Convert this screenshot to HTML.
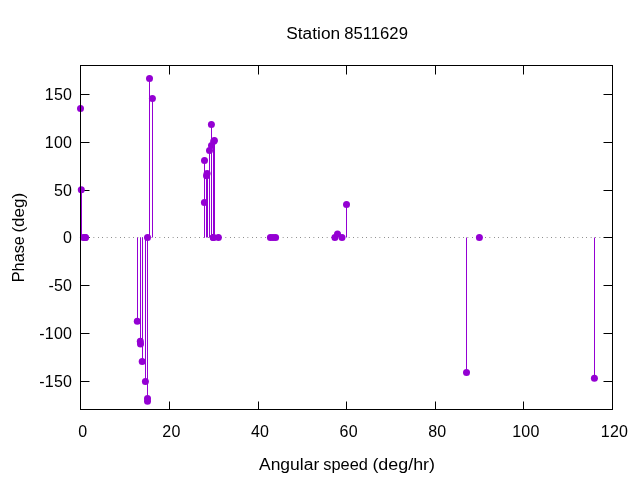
<!DOCTYPE html>
<html><head><meta charset="utf-8"><title>Station 8511629</title>
<style>
html,body{margin:0;padding:0;background:#fff;}
body{width:640px;height:480px;overflow:hidden;}
svg{display:block;}
text{font-family:"Liberation Sans",sans-serif;font-size:16px;fill:#000;}
</style></head><body>
<svg width="640" height="480" viewBox="0 0 640 480">
<rect width="640" height="480" fill="#fff"/>
<g stroke="#000" stroke-width="1" fill="none">
<path d="M80.5 94.5H89.5M612.5 94.5H603.5"/>
<path d="M80.5 142.5H89.5M612.5 142.5H603.5"/>
<path d="M80.5 190.5H89.5M612.5 190.5H603.5"/>
<path d="M80.5 237.5H89.5M612.5 237.5H603.5"/>
<path d="M80.5 285.5H89.5M612.5 285.5H603.5"/>
<path d="M80.5 333.5H89.5M612.5 333.5H603.5"/>
<path d="M80.5 381.5H89.5M612.5 381.5H603.5"/>
<path d="M169.5 409.5V401.5M169.5 65.5V74.5"/>
<path d="M258.5 409.5V401.5M258.5 65.5V74.5"/>
<path d="M346.5 409.5V401.5M346.5 65.5V74.5"/>
<path d="M435.5 409.5V401.5M435.5 65.5V74.5"/>
<path d="M523.5 409.5V401.5M523.5 65.5V74.5"/>
</g>
<line x1="80.4" y1="237.5" x2="612.5" y2="237.5" stroke="#000" stroke-opacity="0.72" stroke-width="1" stroke-dasharray="0.6 3.8"/>
<g stroke="#9400d3" stroke-width="1" fill="none">
<line x1="80.5" y1="237.5" x2="80.5" y2="108.4"/>
<line x1="81.5" y1="237.5" x2="81.5" y2="189.7"/>
<line x1="137.5" y1="237.5" x2="137.5" y2="321.2"/>
<line x1="140.5" y1="237.5" x2="140.5" y2="341.3"/>
<line x1="140.5" y1="237.5" x2="140.5" y2="344.0"/>
<line x1="142.5" y1="237.5" x2="142.5" y2="361.5"/>
<line x1="145.5" y1="237.5" x2="145.5" y2="381.5"/>
<line x1="147.5" y1="237.5" x2="147.5" y2="398.5"/>
<line x1="147.5" y1="237.5" x2="147.5" y2="401.3"/>
<line x1="149.5" y1="237.5" x2="149.5" y2="78.4"/>
<line x1="152.5" y1="237.5" x2="152.5" y2="98.4"/>
<line x1="204.5" y1="237.5" x2="204.5" y2="202.4"/>
<line x1="204.5" y1="237.5" x2="204.5" y2="160.5"/>
<line x1="206.5" y1="237.5" x2="206.5" y2="175.8"/>
<line x1="207.5" y1="237.5" x2="207.5" y2="173.5"/>
<line x1="209.5" y1="237.5" x2="209.5" y2="150.5"/>
<line x1="211.5" y1="237.5" x2="211.5" y2="124.4"/>
<line x1="211.5" y1="237.5" x2="211.5" y2="145.5"/>
<line x1="213.5" y1="237.5" x2="213.5" y2="141.2"/>
<line x1="214.5" y1="237.5" x2="214.5" y2="140.5"/>
<line x1="337.5" y1="237.5" x2="337.5" y2="234.1"/>
<line x1="346.5" y1="237.5" x2="346.5" y2="204.6"/>
<line x1="466.5" y1="237.5" x2="466.5" y2="372.4"/>
<line x1="594.5" y1="237.5" x2="594.5" y2="378.3"/>
</g>
<g fill="#9400d3">
<circle cx="80.5" cy="108.4" r="3.5"/>
<circle cx="81.3" cy="189.7" r="3.5"/>
<circle cx="83.4" cy="237.5" r="3.5"/>
<circle cx="85.2" cy="237.5" r="3.5"/>
<circle cx="85.5" cy="237.5" r="3.5"/>
<circle cx="137.3" cy="321.2" r="3.5"/>
<circle cx="140.3" cy="341.3" r="3.5"/>
<circle cx="140.5" cy="344.0" r="3.5"/>
<circle cx="142.2" cy="361.5" r="3.5"/>
<circle cx="145.4" cy="381.5" r="3.5"/>
<circle cx="147.5" cy="398.5" r="3.5"/>
<circle cx="147.5" cy="237.5" r="3.5"/>
<circle cx="147.5" cy="401.3" r="3.5"/>
<circle cx="149.5" cy="78.4" r="3.5"/>
<circle cx="152.4" cy="98.4" r="3.5"/>
<circle cx="204.4" cy="202.4" r="3.5"/>
<circle cx="204.5" cy="160.5" r="3.5"/>
<circle cx="206.5" cy="175.8" r="3.5"/>
<circle cx="207.1" cy="173.5" r="3.5"/>
<circle cx="209.5" cy="150.5" r="3.5"/>
<circle cx="211.4" cy="124.4" r="3.5"/>
<circle cx="211.5" cy="145.5" r="3.5"/>
<circle cx="213.7" cy="141.2" r="3.5"/>
<circle cx="213.3" cy="237.5" r="3.5"/>
<circle cx="213.3" cy="237.5" r="3.5"/>
<circle cx="214.4" cy="140.5" r="3.5"/>
<circle cx="218.4" cy="237.5" r="3.5"/>
<circle cx="270.4" cy="237.5" r="3.5"/>
<circle cx="273.0" cy="237.5" r="3.5"/>
<circle cx="275.6" cy="237.5" r="3.5"/>
<circle cx="334.9" cy="237.5" r="3.5"/>
<circle cx="337.5" cy="234.1" r="3.5"/>
<circle cx="342.0" cy="237.5" r="3.5"/>
<circle cx="346.5" cy="204.6" r="3.5"/>
<circle cx="466.5" cy="372.4" r="3.5"/>
<circle cx="479.4" cy="237.5" r="3.5"/>
<circle cx="594.4" cy="378.3" r="3.5"/>
</g>
<g stroke="#000" stroke-width="1" fill="none">
<rect x="80.5" y="65.5" width="532" height="344"/>
</g>
<g>
<text x="72.25" y="100.4" text-anchor="end" letter-spacing="0.25">150</text>
<text x="72.25" y="148.4" text-anchor="end" letter-spacing="0.25">100</text>
<text x="72.25" y="196.4" text-anchor="end" letter-spacing="0.25">50</text>
<text x="72.25" y="243.4" text-anchor="end" letter-spacing="0.25">0</text>
<text x="72.25" y="291.4" text-anchor="end" letter-spacing="0.25">-50</text>
<text x="72.25" y="339.4" text-anchor="end" letter-spacing="0.25">-100</text>
<text x="72.25" y="387.4" text-anchor="end" letter-spacing="0.25">-150</text>
<text x="82.8" y="437.4" text-anchor="middle" letter-spacing="0.25">0</text>
<text x="171.4" y="437.4" text-anchor="middle" letter-spacing="0.25">20</text>
<text x="260.1" y="437.4" text-anchor="middle" letter-spacing="0.25">40</text>
<text x="348.7" y="437.4" text-anchor="middle" letter-spacing="0.25">60</text>
<text x="437.3" y="437.4" text-anchor="middle" letter-spacing="0.25">80</text>
<text x="525.9" y="437.4" text-anchor="middle" letter-spacing="0.25">100</text>
<text x="614.5" y="437.4" text-anchor="middle" letter-spacing="0.25">120</text>
<text y="38.8"><tspan x="286.30" textLength="53.80" lengthAdjust="spacingAndGlyphs">Station</tspan> <tspan x="344.30" textLength="63.60" lengthAdjust="spacingAndGlyphs">8511629</tspan></text>
<text y="469.9"><tspan x="259.00" textLength="60.20" lengthAdjust="spacingAndGlyphs">Angular</tspan> <tspan x="323.30" textLength="44.60" lengthAdjust="spacingAndGlyphs">speed</tspan> <tspan x="372.40" textLength="62.60" lengthAdjust="spacingAndGlyphs">(deg/hr)</tspan></text>
<text transform="translate(24.0,282.30) rotate(-90)"><tspan x="0.00" textLength="46.20" lengthAdjust="spacingAndGlyphs">Phase</tspan> <tspan x="49.70" textLength="39.80" lengthAdjust="spacingAndGlyphs">(deg)</tspan></text>
</g>
</svg>
</body></html>
